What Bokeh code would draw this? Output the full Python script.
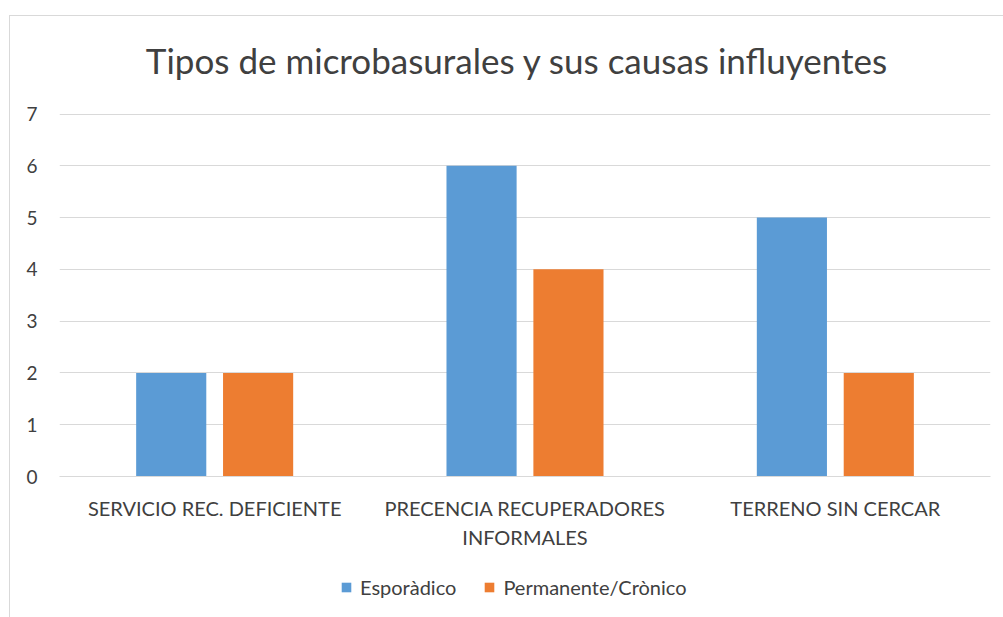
from bokeh.plotting import figure
from bokeh.layouts import column
from bokeh.models import (FactorRange, Range1d, FixedTicker, Legend, LegendItem, Div,
                          ColumnDataSource, CategoricalAxis, CustomJSTickFormatter)
from bokeh.transform import dodge
from bokeh.embed import file_html
from bokeh.resources import INLINE

categories = ["SERVICIO REC. DEFICIENTE", "PRECENCIA RECUPERADORES INFORMALES", "TERRENO SIN CERCAR"]
label_line1 = ["SERVICIO REC. DEFICIENTE", "PRECENCIA RECUPERADORES", "TERRENO SIN CERCAR"]
label_line2 = ["", "INFORMALES", ""]
esporadico = [2, 6, 5]
permanente = [2, 4, 2]
series_names = ["Esporàdico", "Permanente/Crònico"]
series_colors = ["#5B9BD5", "#ED7D31"]
y_ticks = [0, 1, 2, 3, 4, 5, 6, 7]
chart_title = "Tipos de microbasurales y sus causas influyentes"

FONT = "Lato"
TXT = "#404040"
GRID = "#D9D9D9"

src = ColumnDataSource(dict(cat=categories, esp=esporadico, per=permanente))
xr = FactorRange(factors=categories, range_padding=0)

title_div = Div(text=chart_title, width=973, height=83, margin=(0, 0, 0, 20),
                styles={"font-family": FONT, "font-size": "35px", "color": TXT,
                        "text-align": "center", "line-height": "88px", "white-space": "nowrap"})

p = figure(x_range=xr, y_range=Range1d(0, 7.01),
           width=993, height=461,
           output_backend="svg", toolbar_location=None,
           min_border_left=49, min_border_right=13, min_border_top=14, min_border_bottom=84)

r1 = p.vbar(x=dodge("cat", -0.14, range=xr), top="esp", width=0.226, source=src,
            fill_color=series_colors[0], line_color=None)
r2 = p.vbar(x=dodge("cat", 0.14, range=xr), top="per", width=0.226, source=src,
            fill_color=series_colors[1], line_color=None)

p.outline_line_color = None
p.xgrid.grid_line_color = None
p.ygrid.grid_line_color = GRID
p.ygrid.ticker = FixedTicker(ticks=y_ticks)

p.yaxis.ticker = FixedTicker(ticks=y_ticks)
p.yaxis.axis_line_color = None
p.yaxis.major_tick_line_color = None
p.yaxis.minor_tick_line_color = None
p.yaxis.major_tick_out = 0
p.yaxis.major_label_standoff = 22
p.yaxis.major_label_text_font = FONT
p.yaxis.major_label_text_font_size = "19px"
p.yaxis.major_label_text_color = TXT

FMT_CODE = "const i = cats.indexOf(tick); return i < 0 ? tick : labels[i];"

p.xaxis.axis_line_color = GRID
p.xaxis.major_tick_line_color = None
p.xaxis.minor_tick_line_color = None
p.xaxis.major_tick_out = 0
p.xaxis.major_label_standoff = 19
p.xaxis.major_label_text_font = FONT
p.xaxis.major_label_text_font_size = "20px"
p.xaxis.major_label_text_color = TXT
p.xaxis.formatter = CustomJSTickFormatter(args=dict(cats=categories, labels=label_line1), code=FMT_CODE)

ax2 = CategoricalAxis(axis_line_color=None, major_tick_line_color=None, minor_tick_line_color=None,
                      major_tick_out=0, major_label_standoff=2,
                      major_label_text_font=FONT, major_label_text_font_size="20px",
                      major_label_text_color=TXT,
                      formatter=CustomJSTickFormatter(args=dict(cats=categories, labels=label_line2),
                                                      code=FMT_CODE))
p.add_layout(ax2, "below")

# legend row: hidden proxy renderers of the same series, only the legend shows
pl = figure(x_range=xr, y_range=Range1d(0, 7.01), width=993, height=57,
            output_backend="svg", toolbar_location=None,
            x_axis_location=None, y_axis_location=None,
            min_border_left=49, min_border_right=13, min_border_top=0, min_border_bottom=0)
pl.outline_line_color = None
pl.xgrid.grid_line_color = None
pl.ygrid.grid_line_color = None
lr1 = pl.vbar(x=dodge("cat", -0.14, range=xr), top="esp", width=0.226, source=src,
              fill_color=series_colors[0], line_color=None, visible=False)
lr2 = pl.vbar(x=dodge("cat", 0.14, range=xr), top="per", width=0.226, source=src,
              fill_color=series_colors[1], line_color=None, visible=False)

legend = Legend(items=[LegendItem(label=series_names[0], renderers=[lr1]),
                       LegendItem(label=series_names[1], renderers=[lr2])],
                orientation="horizontal", location=(281, 18),
                label_text_font=FONT, label_text_font_size="20px", label_text_color=TXT,
                glyph_width=12, glyph_height=12, spacing=27, label_standoff=8,
                inactive_fill_alpha=0,
                border_line_color=None, background_fill_alpha=0, margin=0, padding=4)
pl.add_layout(legend, "center")

layout = column(title_div, p, pl, spacing=0, margin=(15, 0, 0, 9),
                styles={"border-left": "1px solid #D9D9D9", "border-top": "1px solid #D9D9D9"})
open("out.html", "w").write(file_html(layout, INLINE))
